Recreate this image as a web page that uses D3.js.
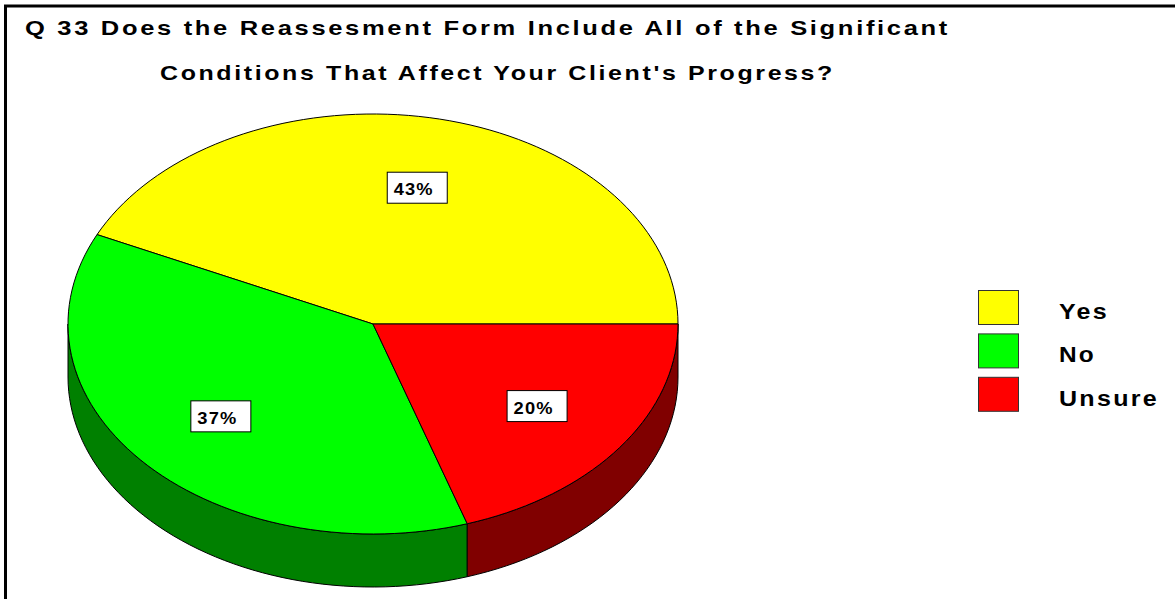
<!DOCTYPE html>
<html><head><meta charset="utf-8">
<script src="https://cdn.jsdelivr.net/npm/d3@7"></script>
<style>html,body{margin:0;padding:0;background:#fff;}svg{display:block;}</style>
</head><body>
<script>
const categories = ["Yes", "No", "Unsure"];
const values = [43, 37, 20];
const labels = ["43%", "37%", "20%"];
const topColors = ["#ffff00", "#00ff00", "#ff0000"];
const sideColors = ["#808000", "#008000", "#800000"];
const titleLines = ["Q 33 Does the Reassesment Form Include All of the Significant",
                    "Conditions That Affect Your Client's Progress?"];

const W = 1175, H = 599;
const svg = d3.select("body").append("svg").attr("width", W).attr("height", H);
const FONT = "Liberation Sans, Arial, sans-serif";

// frame
svg.append("line").attr("x1", 4).attr("x2", W).attr("y1", 6).attr("y2", 6).attr("stroke", "#000").attr("stroke-width", 3);
svg.append("line").attr("x1", 5.5).attr("x2", 5.5).attr("y1", 5).attr("y2", H).attr("stroke", "#000").attr("stroke-width", 3);

// title
const tl = [{x: 25, y: 34.5, w: 925}, {x: 160, y: 79.5, w: 675}];
titleLines.forEach((t, i) => {
  svg.append("text").attr("x", tl[i].x).attr("y", tl[i].y)
    .attr("font-family", FONT).attr("font-weight", "bold")
    .attr("font-size", 21).attr("letter-spacing", 2.2)
    .attr("textLength", tl[i].w).attr("lengthAdjust", "spacingAndGlyphs")
    .attr("fill", "#000").text(t);
});

// 3D pie
const cx = 373, cy = 324, rx = 305, ry = 210, depth = 53;
const pie = d3.pie().sort(null).startAngle(Math.PI / 2).endAngle(Math.PI / 2 - 2 * Math.PI);
const arcs = pie(values);
const px = a => cx + rx * Math.sin(a);
const py = a => cy - ry * Math.cos(a);
function samples(a0, a1) {
  const n = Math.max(2, Math.ceil(Math.abs(a1 - a0) / (Math.PI / 90)));
  return d3.range(n + 1).map(i => a0 + (a1 - a0) * i / n);
}

// sides (visible lower half: angles in [-3π/2, -π/2])
const lo = -3 * Math.PI / 2, hi = -Math.PI / 2;
arcs.forEach((d, i) => {
  const a = Math.max(Math.min(d.startAngle, d.endAngle), lo);
  const b = Math.min(Math.max(d.startAngle, d.endAngle), hi);
  if (b <= a) return;
  const s = samples(a, b);
  const pts = s.map(t => [px(t), py(t)]).concat(s.slice().reverse().map(t => [px(t), py(t) + depth]));
  svg.append("path").attr("d", "M" + pts.map(p => p.join(",")).join("L") + "Z")
    .attr("fill", sideColors[i]).attr("stroke", "#000").attr("stroke-width", 1).attr("stroke-linejoin", "round");
});

// tops
arcs.forEach((d, i) => {
  const s = samples(d.startAngle, d.endAngle);
  const pts = [[cx, cy]].concat(s.map(t => [px(t), py(t)]));
  svg.append("path").attr("d", "M" + pts.map(p => p.join(",")).join("L") + "Z")
    .attr("fill", topColors[i]).attr("stroke", "#000").attr("stroke-width", 1).attr("stroke-linejoin", "round");
});

// labels
arcs.forEach((d, i) => {
  const m = (d.startAngle + d.endAngle) / 2;
  const lx = cx + 0.665 * rx * Math.sin(m), ly = cy - 0.665 * ry * Math.cos(m);
  svg.append("rect").attr("x", lx - 30).attr("y", ly - 15.5).attr("width", 60).attr("height", 31)
    .attr("fill", "#fff").attr("stroke", "#000").attr("stroke-width", 1);
  svg.append("text").attr("x", lx - 23.5).attr("y", ly + 7.5)
    .attr("font-family", FONT).attr("font-weight", "bold")
    .attr("font-size", 16).attr("letter-spacing", 1)
    .attr("textLength", 40).attr("lengthAdjust", "spacingAndGlyphs")
    .attr("fill", "#000").text(labels[i]);
});

// legend
const ly0 = 290, lstep = 43.4;
const legendW = [50, 37, 100];
categories.forEach((c, i) => {
  svg.append("rect").attr("x", 978.5).attr("y", ly0 + i * lstep + 0.5).attr("width", 40).attr("height", 34)
    .attr("fill", topColors[i]).attr("stroke", "#333").attr("stroke-width", 1);
  svg.append("text").attr("x", 1059).attr("y", ly0 + i * lstep + 29)
    .attr("font-family", FONT).attr("font-weight", "bold")
    .attr("font-size", 22).attr("letter-spacing", 2)
    .attr("textLength", legendW[i]).attr("lengthAdjust", "spacingAndGlyphs")
    .attr("fill", "#000").text(c);
});
</script>
</body></html>
